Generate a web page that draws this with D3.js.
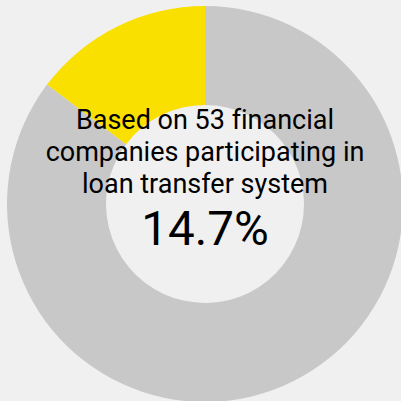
<!DOCTYPE html>
<html>
<head>
<meta charset="utf-8">
<script src="https://cdn.jsdelivr.net/npm/d3@7"></script>
<style>
  html, body { margin: 0; padding: 0; background: #f0f0f0; }
  svg { display: block; }
  text { font-variant-ligatures: none; }
</style>
</head>
<body>
<script>
// Share of financial companies in the loan transfer system
const categories = ["Other", "Participating"];
const values = [85.3, 14.7];
const colors = ["#c8c8c8", "#f9e000"];
const captionLines = ["Based on 53 financial", "companies participating in", "loan transfer system"];
const valueLabel = "14.7%";

const W = 401, H = 401;
const cx = 205, cy = 204;
const outerR = 198, innerR = 99;

const svg = d3.select("body").append("svg")
  .attr("width", W).attr("height", H);

svg.append("rect").attr("width", W).attr("height", H).attr("fill", "#f0f0f0");

const color = d3.scaleOrdinal().domain(categories).range(colors);

const pie = d3.pie().sort(null).value(d => d.value);
const arc = d3.arc().innerRadius(innerR).outerRadius(outerR);

const data = categories.map((c, i) => ({ name: c, value: values[i] }));

const g = svg.append("g").attr("transform", `translate(${cx},${cy})`);
g.selectAll("path").data(pie(data)).join("path")
  .attr("d", arc)
  .attr("fill", d => color(d.data.name));

const txt = svg.append("g").attr("font-family", "Roboto, 'Noto Sans', sans-serif")
  .attr("text-anchor", "middle").attr("fill", "#000");

txt.selectAll("text.cap").data(captionLines).join("text")
  .attr("class", "cap")
  .attr("x", cx)
  .attr("y", (d, i) => 128.5 + i * 32.2)
  .attr("font-size", 27)
  .text(d => d);

txt.append("text")
  .attr("x", cx).attr("y", 245)
  .attr("font-size", 47.5)
  .text(valueLabel);
</script>
</body>
</html>
